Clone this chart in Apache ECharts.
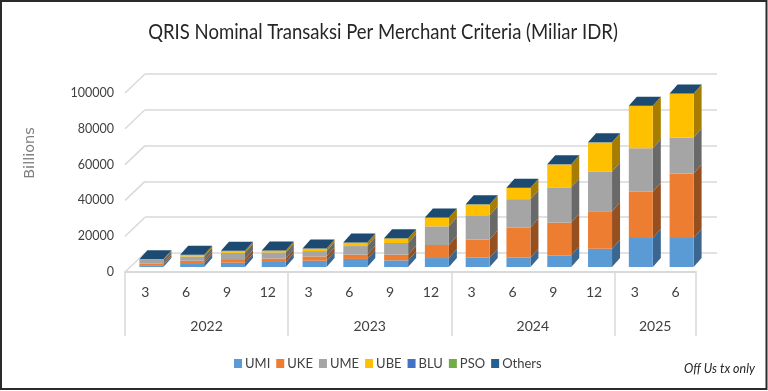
<!DOCTYPE html>
<html>
<head>
<meta charset="utf-8">
<style>html,body{margin:0;padding:0;background:#fff}#main{width:768px;height:391px}</style>
<script src="https://cdn.jsdelivr.net/npm/echarts@6/dist/echarts.min.js"></script>
</head>
<body>
<div id="main"></div>
<script>
var months = ['3','6','9','12','3','6','9','12','3','6','9','12','3','6'];
var years = ['2022','2023','2024','2025'];
var yearSpans = [4,4,4,2];
var yTicks = [0,20000,40000,60000,80000,100000];
var seriesNames = ['UMI','UKE','UME','UBE','BLU','PSO','Others'];

var umi = [1000,2200,2400,2800,3500,4500,3700,5000,5200,5200,6500,10200,16200,16200];
var uke = [1000,1300,2000,1900,2400,2400,3200,7300,10100,16900,18300,20900,25900,36100];
var ume = [1900,2400,3500,3400,3000,4800,6500,10400,13600,15800,19700,22200,24200,20100];
var ube = [300,900,1100,1100,1300,1900,2600,4900,6000,6300,12700,16200,23700,24400];
var blu = [10,10,10,10,10,20,20,20,30,30,30,30,40,40];
var pso = [5,5,5,5,5,5,5,5,5,5,5,5,5,5];
var others = [60,60,60,60,60,80,80,80,100,100,100,100,100,100];
var allValues = [umi,uke,ume,ube,blu,pso,others];

var colors = ['#5B9BD5','#ED7D31','#A5A5A5','#FFC000','#4472C4','#70AD47','#255E91'];
var sideColors = ['#3A6690','#96501F','#696969','#A67D00','#2B4A80','#476E2D','#173C5D'];
var textFont = 'Lato,sans-serif';
var barW = 24, offX = 6, offY = -5, depthX = 8, depthY = -9;

// year labels sit in the middle of their span, ticks on the borders
var yearTicks = [0], yearCenters = [], yearByCenter = {};
yearSpans.forEach(function (s, i) {
    var start = yearTicks[yearTicks.length - 1];
    yearTicks.push(start + s);
    yearCenters.push(start + s / 2);
    yearByCenter[start + s / 2] = years[i];
});

function poly(points, fill) {
    return {type: 'polygon', shape: {points: points}, style: {fill: fill}};
}

function stackSeries(name, idx) {
    var rows = months.map(function (m, i) {
        var base = 0;
        for (var k = 0; k < idx; k++) base += allValues[k][i];
        return [i, base, base + allValues[idx][i]];
    });
    return {
        name: name,
        type: 'custom',
        xAxisIndex: 0,
        yAxisIndex: 0,
        z: 5,
        itemStyle: {color: colors[idx]},
        data: rows,
        encode: {x: 0, y: [1, 2]},
        renderItem: function (params, api) {
            var p0 = api.coord([api.value(0), api.value(1)]);
            var p1 = api.coord([api.value(0), api.value(2)]);
            var l = p0[0] - barW / 2 + offX, r = l + barW;
            var b = p0[1] + offY, t = p1[1] + offY;
            var kids = [
                poly([[r, b], [r + depthX, b + depthY], [r + depthX, t + depthY], [r, t]], sideColors[idx]),
                poly([[l, b], [r, b], [r, t], [l, t]], colors[idx])
            ];
            if (idx === allValues.length - 1) {
                kids.push(poly([[l, t], [r, t], [r + depthX, t + depthY], [l + depthX, t + depthY]], '#1C4A70'));
            }
            return {type: 'group', children: kids};
        }
    };
}

var series = seriesNames.map(stackSeries);

// left wall lines, from front axis to back wall
series.push({
    type: 'custom',
    xAxisIndex: 0,
    yAxisIndex: 0,
    z: 1,
    silent: true,
    data: yTicks.map(function (v) { return [0, v]; }),
    renderItem: function (params, api) {
        var y = api.coord([0, api.value(1)])[1];
        var x = params.coordSys.x;
        return {type: 'line', shape: {x1: x, y1: y, x2: x + 20, y2: y - 19},
            style: {stroke: '#d9d9d9', lineWidth: 1.5}};
    }
});

var chart = echarts.init(document.getElementById('main'));
chart.setOption({
    animation: false,
    backgroundColor: '#fff',
    legend: {
        data: seriesNames,
        left: 234, top: 357, padding: 0,
        icon: 'rect', itemWidth: 8, itemHeight: 9, itemGap: 6,
        textStyle: {fontFamily: textFont, fontSize: 13, color: '#404040', padding: [0, 0, 0, -2]}
    },
    grid: [
        {left: 125, right: 72, top: 93, bottom: 119},
        {left: 145, right: 51, top: 74, bottom: 138}
    ],
    xAxis: [
        {
            type: 'category', gridIndex: 0, data: months,
            axisLine: {lineStyle: {color: '#d9d9d9', width: 2}},
            axisTick: {length: 32, lineStyle: {color: '#d9d9d9', width: 1.5}},
            axisLabel: {margin: 13, interval: 0, fontFamily: textFont, fontSize: 14, color: '#404040'}
        },
        {
            type: 'value', gridIndex: 0, min: 0, max: 14, position: 'bottom',
            splitLine: {show: false},
            axisLine: {show: false},
            axisTick: {length: 64, customValues: yearTicks, lineStyle: {color: '#d9d9d9', width: 1.5}},
            axisLabel: {
                customValues: yearCenters, margin: 47, fontFamily: textFont, fontSize: 14, color: '#404040',
                formatter: function (v) { return yearByCenter[v]; }
            }
        },
        {type: 'value', gridIndex: 1, min: 0, max: 1, show: false}
    ],
    yAxis: [
        {
            type: 'value', gridIndex: 0, min: 0, max: 100000, interval: 20000,
            axisLine: {show: false}, axisTick: {show: false}, splitLine: {show: false},
            axisLabel: {margin: 11, fontFamily: textFont, fontSize: 12.5, color: '#404040', padding: [5, 0, 0, 0],
                formatter: function (v) { return String(v); }}
        },
        {
            type: 'value', gridIndex: 1, min: 0, max: 100000, interval: 20000,
            axisLine: {show: false}, axisTick: {show: false}, axisLabel: {show: false},
            splitLine: {show: true, lineStyle: {color: '#d9d9d9', width: 1.5}}
        }
    ],
    graphic: [
        {type: 'rect', z: 100, silent: true, shape: {x: 1, y: 1, width: 765.5, height: 388},
            style: {fill: 'none', stroke: '#2b2b2b', lineWidth: 2}},
        {type: 'text', x: 383, y: 32, scaleX: 0.842, silent: true,
            style: {text: 'QRIS Nominal Transaksi Per Merchant Criteria (Miliar IDR)', fill: '#262626',
                font: '22px ' + textFont, align: 'center', verticalAlign: 'middle'}},
        {type: 'text', x: 30, y: 153, rotation: Math.PI / 2, silent: true,
            style: {text: 'Billions', fill: '#7f7f7f', font: '14.5px "DejaVu Sans"', align: 'center', verticalAlign: 'middle'}},
        {type: 'text', x: 684, y: 368, scaleX: 0.89, silent: true,
            style: {text: 'Off Us tx only', fill: '#262626', font: 'italic 14px ' + textFont, verticalAlign: 'middle'}}
    ],
    series: series
});
</script>
</body>
</html>
